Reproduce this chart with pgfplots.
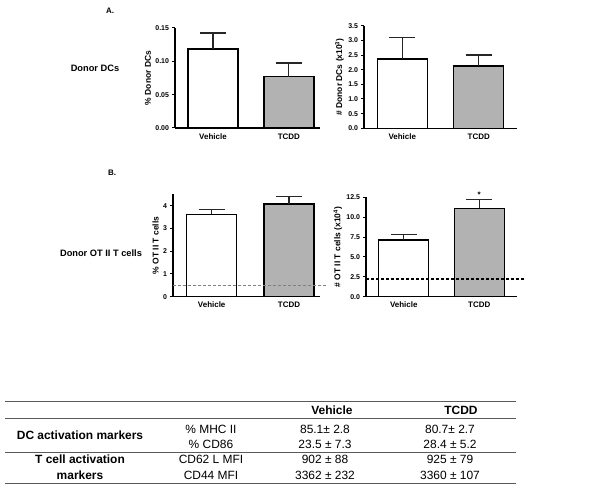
\documentclass[border=0pt]{standalone}
\usepackage{pgfplots}
\pgfplotsset{compat=1.18}
\usepackage{fontspec}
\setmainfont{Liberation Sans}
\definecolor{bargray}{RGB}{178,178,178}
\definecolor{rulegray}{RGB}{90,90,90}
\pgfplotsset{
  panel/.style={
    scale only axis,
    anchor=south west,
    axis lines=left,
    axis line style={-, line width=1.3bp, black},
    ymin=0,
    clip=false,
    xtick={0,1},
    xticklabels={Vehicle,TCDD},
    xtick style={draw=none},
    ytick style={line width=1bp, black},
    tick align=outside,
    major tick length=3bp,
    /pgf/number format/assume math mode=true,
    tick label style={font=\fontsize{7}{8}\selectfont\bfseries},
    yticklabel style={xshift=0.5bp},
    x tick label style={font=\fontsize{8}{9}\selectfont\bfseries, yshift=1bp},
    ylabel style={font=\fontsize{8.5}{9}\selectfont\bfseries, yshift=-2.5bp},
  },
  vbar/.style={ybar, bar shift=0pt, bar width=50bp, fill=white, draw=black, line width=1.4bp,
    error bars/y dir=plus, error bars/y explicit,
    error bars/error bar style={line width=1.2bp, black!85},
    error bars/error mark options={rotate=90, mark size=13bp, line width=1.2bp, black!85}},
  tbar/.style={vbar, fill=bargray},
}
\begin{document}
\begin{tikzpicture}[x=1bp,y=1bp]
\path[use as bounding box] (0,0) rectangle (600,489);
% panel labels
\node[font=\fontsize{8}{9}\selectfont\bfseries] at (110,478) {A.};
\node[font=\fontsize{8}{9}\selectfont\bfseries] at (112,316) {B.};
\node[font=\fontsize{9.3}{10}\selectfont\bfseries] at (95,421) {Donor DCs};
\node[font=\fontsize{9.3}{10}\selectfont\bfseries] at (101,236) {Donor OT II T cells};

% Top-left
\begin{axis}[panel, at={(175bp,361bp)}, width=145bp, height=100bp,
  xmin=-0.5, xmax=1.41, ymax=0.15, ytick={0,0.05,0.10,0.15},
  yticklabel style={/pgf/number format/.cd, fixed, fixed zerofill, precision=2},
  ylabel={\% Donor DCs}]
\addplot[vbar] coordinates {(0,0.1185) +- (0,0.024)};
\addplot[tbar] coordinates {(1,0.077) +- (0,0.0205)};
\end{axis}

% Top-right
\begin{axis}[panel, at={(364bp,360.7bp)}, width=153bp, height=102.6bp,
  xmin=-0.5, xmax=1.5, ymax=3.5, ytick={0,0.5,...,3.5},
  yticklabel style={/pgf/number format/.cd, fixed, fixed zerofill, precision=1},
  ylabel={\# Donor DCs (x10\textsuperscript{3})}]
\addplot[vbar] coordinates {(0,2.37) +- (0,0.72)};
\addplot[tbar] coordinates {(1,2.12) +- (0,0.38)};
\end{axis}

% Bottom-left
\begin{axis}[panel, at={(173bp,192.3bp)}, width=147bp, height=102.4bp,
  xmin=-0.5, xmax=1.4, ymax=4.5, ytick={0,1,2,3,4},
  ylabel={\% OT II T cells}]
\addplot[vbar] coordinates {(0,3.62) +- (0,0.22)};
\addplot[tbar] coordinates {(1,4.07) +- (0,0.34)};
\addplot[gray, line width=1bp, dash pattern=on 3bp off 2bp] coordinates {(-0.5,0.47) (1.5,0.47)};
\end{axis}

% Bottom-right
\begin{axis}[panel, at={(366bp,192.3bp)}, width=151bp, height=99.4bp,
  xmin=-0.5, xmax=1.5, ymax=12.5, ytick={0,2.5,...,12.5},
  yticklabel style={/pgf/number format/.cd, fixed, fixed zerofill, precision=1},
  ylabel={\# OT II T cells (x10\textsuperscript{4})}]
\addplot[vbar] coordinates {(0,7.13) +- (0,0.71)};
\addplot[tbar] coordinates {(1,11.1) +- (0,1.15)};
\addplot[black, line width=1.1bp, dash pattern=on 3bp off 2bp] coordinates {(-0.5,2.22) (1.59,2.22)};
\node[font=\fontsize{8}{9}\selectfont\bfseries, anchor=base] at (axis cs:1,12.5) {*};
\end{axis}

% Table
\draw[rulegray, line width=0.9bp] (5,87.3) -- (516,87.3);
\draw[rulegray, line width=0.9bp] (5,70.7) -- (516,70.7);
\draw[rulegray, line width=0.9bp] (5,36.3) -- (516,36.3);
\draw[rulegray, line width=0.9bp] (5,5.7) -- (516,5.7);
\begin{scope}[every node/.style={anchor=base, inner sep=0pt, font=\fontsize{12}{14}\selectfont}]
\node[font=\fontsize{12}{14}\selectfont\bfseries] at (332,74) {Vehicle};
\node[font=\fontsize{12}{14}\selectfont\bfseries] at (461,74) {TCDD};
\node[font=\fontsize{12}{14}\selectfont\bfseries] at (80,49) {DC activation markers};
\node[font=\fontsize{12}{14}\selectfont\bfseries] at (80,25) {T cell activation};
\node[font=\fontsize{12}{14}\selectfont\bfseries] at (80,9) {markers};
\node at (211,55.7) {\% MHC II};
\node at (211,40.7) {\% CD86};
\node at (211,25) {CD62 L MFI};
\node at (211,9) {CD44 MFI};
\node at (325,55.7) {85.1± 2.8};
\node at (325,40.7) {23.5 ± 7.3};
\node at (325,25) {902 ± 88};
\node at (325,9) {3362 ± 232};
\node at (450,55.7) {80.7± 2.7};
\node at (450,40.7) {28.4 ± 5.2};
\node at (450,25) {925 ± 79};
\node at (450,9) {3360 ± 107};
\end{scope}
\end{tikzpicture}
\end{document}
